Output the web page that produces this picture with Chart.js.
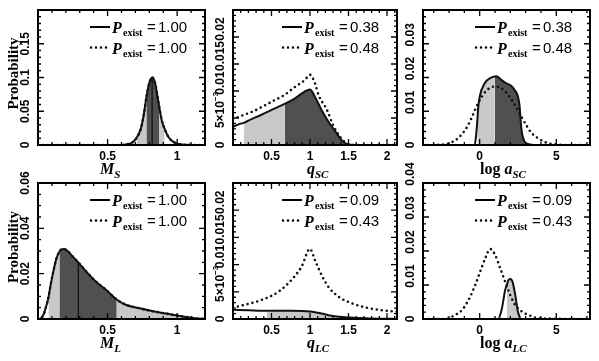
<!DOCTYPE html>
<html>
<head>
<meta charset="utf-8">
<script src="https://cdn.jsdelivr.net/npm/chart.js@4.4.0/dist/chart.umd.min.js"></script>
<style>
  html, body { margin: 0; padding: 0; background: #fff; }
  #wrap { position: relative; width: 599px; height: 361px; }
  #wrap canvas { position: absolute; left: 0; top: 0; }
</style>
</head>
<body>
<div id="wrap">
  <canvas id="c1" width="599" height="361"></canvas>
  <canvas id="c2" width="599" height="361"></canvas>
  <canvas id="c3" width="599" height="361"></canvas>
  <canvas id="c4" width="599" height="361"></canvas>
  <canvas id="c5" width="599" height="361"></canvas>
  <canvas id="c6" width="599" height="361"></canvas>
</div>
<script>
// ---------- data ----------
// M_S (top left)
const msX = [0, 0.6, 0.64, 0.68, 0.71, 0.74, 0.76, 0.78, 0.80, 0.82, 0.84, 0.87, 0.89, 0.91, 0.94, 0.97, 1.0, 1.05, 1.2];
const msSolid = [0, 0, 0.001, 0.004, 0.011, 0.025, 0.045, 0.072, 0.092, 0.100, 0.093, 0.058, 0.036, 0.024, 0.011, 0.005, 0.002, 0.0005, 0];
const msDotted = msSolid;
const msLight = [0.71, 0.91];
const msDark = [0.78, 0.87];
const msMedian = 0.82;

// q_SC (top middle)
const qscX = [0, 0.11, 0.14, 0.24, 0.37, 0.5, 0.67, 0.80, 0.93, 1.0, 1.065, 1.15, 1.24, 1.33, 1.41, 1.48, 1.59, 2.2];
const qscSolid = [0.0034, 0.0040, 0.0041, 0.0048, 0.0056, 0.0065, 0.0076, 0.0086, 0.0099, 0.0103, 0.0089, 0.0065, 0.0043, 0.0025, 0.0009, 0.0002, 0, 0];
const qscDotX = [0, 0.11, 0.24, 0.37, 0.5, 0.67, 0.80, 0.93, 1.0, 1.065, 1.11, 1.22, 1.30, 1.39, 1.48, 1.59, 2.2];
const qscDotted = [0.0048, 0.0054, 0.0061, 0.0070, 0.0080, 0.0093, 0.0107, 0.0120, 0.0130, 0.0114, 0.0093, 0.0065, 0.0037, 0.0015, 0.0003, 0, 0];
const qscLight = [0.14, 0.67];
const qscDark = [0.67, 1.59];

// log a_SC (top right)
const ascX = [-3.7, -0.33, -0.22, -0.15, -0.11, 0, 0.33, 0.76, 0.98, 1.09, 1.41, 1.74, 2.07, 2.28, 2.50, 2.61, 2.67, 2.76, 2.93, 3.15, 3.59, 7.2];
const ascSolid = [0, 0, 0.0035, 0.0075, 0.0104, 0.0143, 0.0183, 0.0200, 0.0203, 0.0204, 0.0193, 0.0183, 0.0175, 0.0163, 0.0143, 0.0113, 0.0074, 0.0035, 0.0010, 0.0003, 0, 0];
const ascDotX = [-3.7, -3.26, -2.28, -1.74, -1.30, -0.87, -0.54, -0.22, 0.11, 0.44, 0.76, 1.09, 1.41, 1.74, 2.07, 2.39, 2.72, 3.04, 3.37, 3.82, 4.35, 4.89, 5.98, 7.2];
const ascDotted = [0, 0, 0.0002, 0.001, 0.0025, 0.005, 0.0079, 0.0113, 0.0141, 0.0161, 0.0171, 0.0173, 0.0168, 0.0155, 0.0135, 0.0112, 0.0084, 0.0059, 0.0036, 0.002, 0.0007, 0.0002, 0, 0];
const ascLight = [-0.15, 0.98];
const ascDark = [0.98, 3.15];

// M_L (bottom left)
const mlX = [0, 0.01, 0.04, 0.06, 0.075, 0.09, 0.11, 0.13, 0.155, 0.18, 0.205, 0.24, 0.29, 0.35, 0.42, 0.49, 0.565, 0.63, 0.73, 0.82, 0.92, 1.0, 1.085, 1.15, 1.2];
const mlSolid = [0, 0, 0.002, 0.0058, 0.0095, 0.0148, 0.0209, 0.0262, 0.0299, 0.0309, 0.0304, 0.0282, 0.0249, 0.0207, 0.0163, 0.0128, 0.0086, 0.0063, 0.0047, 0.0035, 0.0024, 0.0015, 0.0007, 0.0002, 0];
const mlDotted = mlSolid;
const mlLight = [0.075, 1.085];
const mlDark = [0.155, 0.565];
const mlMedian = 0.29;

// q_LC (bottom middle)
const qlcX = [0, 0.2, 0.44, 0.76, 1.0, 1.15, 1.24, 1.46, 1.76, 2.2];
const qlcSolid = [0.0017, 0.0016, 0.0015, 0.0015, 0.0014, 0.0010, 0.0007, 0.0003, 0.0001, 0];
const qlcDotX = [0, 0.15, 0.37, 0.59, 0.76, 0.89, 1.0, 1.065, 1.15, 1.24, 1.37, 1.54, 1.76, 2.2];
const qlcDotted = [0.0021, 0.0026, 0.0035, 0.0050, 0.0072, 0.0096, 0.0129, 0.0108, 0.0081, 0.0059, 0.0041, 0.0029, 0.0020, 0.0012];
const qlcLight = [0.44, 1.46];

// log a_LC (bottom right)
const alcX = [-3.7, 1.2, 1.45, 1.66, 1.77, 1.88, 1.99, 2.14, 2.32, 2.49, 2.58, 2.64, 2.75, 7.2];
const alcSolid = [0, 0, 0.0031, 0.0085, 0.0100, 0.0115, 0.0118, 0.0110, 0.0071, 0.0022, 0.0010, 0.0002, 0, 0];
const alcDotX = [-3.7, -3.34, -2.25, -1.60, -1.16, -0.73, -0.29, 0.03, 0.36, 0.68, 1.01, 1.34, 1.66, 1.99, 2.32, 2.75, 3.18, 3.84, 4.71, 5.79, 7.2];
const alcDotted = [0, 0, 0, 0.0012, 0.0026, 0.0056, 0.0100, 0.0139, 0.0178, 0.0206, 0.0188, 0.0149, 0.0110, 0.0071, 0.0041, 0.0022, 0.0012, 0.0002, 0.0001, 0, 0];
const alcLight = [1.77, 2.58];

// legend values (solid, dotted)
const pExistSC = ['0.38', '0.48'];
const pExistLC = ['0.09', '0.43'];
const pExistMass = ['1.00', '1.00'];

// tick labels
const massXTicks = [0.5, 1];
const qXTicks = [0.5, 1, 1.5, 2];
const aXTicks = [0, 5];
const msYTicks = [0, 0.05, 0.1, 0.15];
const mlYTicks = [0, 0.02, 0.04, 0.06];
const qYTicks = [0, 0.005, 0.01, 0.015, 0.02];
const qYLabels = ['0', '5×10^−3', '0.01', '0.015', '0.02'];
const ascYTicks = [0, 0.01, 0.02, 0.03];
const alcYTicks = [0, 0.01, 0.02, 0.03, 0.04];

const LIGHT = '#c8c8c8';
const DARK = '#505050';

function pts(xs, ys) { return xs.map((x, i) => ({ x: x, y: ys[i] })); }
function band(xs, ys, r) { return pts(xs, ys).filter(p => p.x >= r[0] - 1e-9 && p.x <= r[1] + 1e-9); }

function drawLabel(ctx, text, x, y, fontPx) {
  // supports one superscript chunk written as base^sup
  const parts = text.split('^');
  ctx.font = 'bold ' + fontPx + 'px "Liberation Sans"';
  const wb = ctx.measureText(parts[0]).width;
  let ws = 0;
  if (parts[1]) { ctx.font = 'bold ' + Math.round(fontPx * 0.7) + 'px "Liberation Sans"'; ws = ctx.measureText(parts[1]).width; }
  const x0 = x - (wb + ws) / 2;
  ctx.textAlign = 'left';
  ctx.textBaseline = 'middle';
  ctx.font = 'bold ' + fontPx + 'px "Liberation Sans"';
  ctx.fillText(parts[0], x0, y);
  if (parts[1]) {
    ctx.font = 'bold ' + Math.round(fontPx * 0.7) + 'px "Liberation Sans"';
    ctx.fillText(parts[1], x0 + wb, y - fontPx * 0.45);
  }
}

function stepTicks(min, max, step) {
  const out = [];
  for (let k = Math.ceil(min / step - 1e-6); k * step <= max + 1e-9; k++) out.push(k * step);
  return out;
}

const axesPlugin = {
  id: 'smAxes',
  afterDraw(chart) {
    const p = chart.config.options.plugins.smAxes;
    const ctx = chart.ctx, a = chart.chartArea, sx = chart.scales.x, sy = chart.scales.y;
    ctx.save();
    ctx.strokeStyle = '#000';
    ctx.fillStyle = '#000';
    ctx.lineWidth = 1.3;
    ctx.beginPath();
    stepTicks(sx.min, sx.max, p.xMinor).forEach(v => {
      const X = sx.getPixelForValue(v);
      const major = Math.abs(v / p.xMajor - Math.round(v / p.xMajor)) < 1e-6;
      const L = major ? 6 : 3;
      ctx.moveTo(X, a.bottom); ctx.lineTo(X, a.bottom - L);
      ctx.moveTo(X, a.top); ctx.lineTo(X, a.top + L);
    });
    stepTicks(sy.min, sy.max, p.yMinor).forEach(v => {
      const Y = sy.getPixelForValue(v);
      const major = Math.abs(v / p.yMajor - Math.round(v / p.yMajor)) < 1e-6;
      const L = major ? 6 : 3;
      ctx.moveTo(a.left, Y); ctx.lineTo(a.left + L, Y);
      ctx.moveTo(a.right, Y); ctx.lineTo(a.right - L, Y);
    });
    ctx.stroke();
    ctx.lineWidth = 2;
    ctx.strokeRect(a.left, a.top, a.right - a.left, a.bottom - a.top);

    // x tick labels
    p.xTicks.forEach(v => drawLabel(ctx, String(v), sx.getPixelForValue(v), a.bottom + 11.5, 12));
    // y tick labels (rotated); non-zero labels sit a little above their tick in some panels
    p.yTicks.forEach((v, i) => {
      const Y = sy.getPixelForValue(v) - (v !== 0 ? (p.yLabelShift || 0) : 0);
      ctx.save();
      ctx.translate(a.left - 12, Y);
      ctx.rotate(-Math.PI / 2);
      drawLabel(ctx, p.yLabels ? p.yLabels[i] : String(v), 0, 0, 12);
      ctx.restore();
    });

    // x title
    const tx = p.titleX, ty = a.bottom + 29;
    ctx.textAlign = 'left';
    ctx.textBaseline = 'alphabetic';
    let cx = tx;
    if (p.titlePre) {
      ctx.font = 'bold 16px "Liberation Serif"';
      ctx.fillText(p.titlePre, cx, ty);
      cx += ctx.measureText(p.titlePre).width + 4;
    }
    ctx.font = 'bold italic 16px "Liberation Serif"';
    ctx.fillText(p.titleMain, cx, ty);
    cx += ctx.measureText(p.titleMain).width;
    ctx.font = 'bold italic 11px "Liberation Serif"';
    ctx.fillText(p.titleSub, cx, ty + 4);

    // y title
    if (p.yTitle) {
      ctx.save();
      ctx.translate(14, (a.top + a.bottom) / 2 - 4);
      ctx.rotate(-Math.PI / 2);
      ctx.font = 'bold 15px "Liberation Serif"';
      ctx.textAlign = 'center';
      ctx.textBaseline = 'middle';
      ctx.fillText('Probability', 0, 0);
      ctx.restore();
    }

    // legend
    const lx = p.legendX;
    [0, 1].forEach(k => {
      const y = a.top + 17 + k * 20.5;
      ctx.beginPath();
      ctx.lineWidth = k ? 2.5 : 2;
      ctx.lineCap = k ? 'round' : 'butt';
      ctx.setLineDash(k ? [0, 5] : []);
      ctx.moveTo(lx + (k ? 1 : 0), y);
      ctx.lineTo(lx + 20, y);
      ctx.stroke();
      ctx.setLineDash([]);
      ctx.textAlign = 'left';
      ctx.textBaseline = 'alphabetic';
      ctx.font = 'bold italic 16px "Liberation Serif"';
      ctx.fillText('P', lx + 22, y + 6);
      ctx.font = 'bold 10px "Liberation Serif"';
      ctx.fillText('exist', lx + 33, y + 9);
      ctx.font = '15px "Liberation Sans"';
      ctx.fillText('=', lx + 57, y + 5);
      ctx.fillText(p.legend[k], lx + 68, y + 5);
    });
    ctx.restore();
  }
};

function makePanel(id, area, xr, yr, solid, dotted, shades, median, axes) {
  const ds = [];
  ds.push({ data: solid, borderColor: '#111', borderWidth: 2, pointRadius: 0, cubicInterpolationMode: 'monotone', fill: false, order: 0 });
  ds.push({ data: dotted, borderColor: '#111', borderWidth: 2.6, borderDash: [0, 5], borderCapStyle: 'round', pointRadius: 0, cubicInterpolationMode: 'monotone', fill: false, order: 1 });
  if (median) ds.push({ data: median, borderColor: '#111', borderWidth: 1.3, pointRadius: 0, fill: false, order: 2 });
  shades.forEach((s, i) => ds.push({ data: s.data, borderWidth: 0, borderColor: 'rgba(0,0,0,0)', backgroundColor: s.color, pointRadius: 0, cubicInterpolationMode: 'monotone', fill: 'origin', order: 3 + i }));
  return new Chart(document.getElementById(id), {
    type: 'line',
    data: { datasets: ds },
    options: {
      responsive: false,
      animation: false,
      events: [],
      layout: { padding: { left: area[0], top: area[1], right: 599 - area[2], bottom: 361 - area[3] } },
      plugins: { legend: { display: false }, tooltip: { enabled: false }, smAxes: axes },
      scales: {
        x: { type: 'linear', min: xr[0], max: xr[1], display: false },
        y: { type: 'linear', min: yr[0], max: yr[1], display: false }
      }
    },
    plugins: [axesPlugin]
  });
}

function medianLine(xs, ys, m) { const i = xs.indexOf(m); return [{ x: m, y: 0 }, { x: m, y: ys[i] }]; }

const row1 = [10, 145], row2 = [183, 319];
const col1 = [38, 205], col2 = [233, 397], col3 = [423, 590];
const massRange = [0, 1.2], qRange = [0, 2.13], aRange = [-3.7, 7.2];

makePanel('c1', [col1[0], row1[0], col1[1], row1[1]], massRange, [0, 0.2],
  pts(msX, msSolid), pts(msX, msDotted),
  [{ data: band(msX, msSolid, msDark), color: DARK }, { data: band(msX, msSolid, msLight), color: LIGHT }],
  medianLine(msX, msSolid, msMedian),
  { xMinor: 0.1, xMajor: 0.5, yMinor: 0.01, yMajor: 0.05, xTicks: massXTicks, yTicks: msYTicks,
    titleX: 100, titleMain: 'M', titleSub: 'S', yTitle: true, legendX: 90, legend: pExistMass });

makePanel('c2', [col2[0], row1[0], col2[1], row1[1]], qRange, [0, 0.025],
  pts(qscX, qscSolid), pts(qscDotX, qscDotted),
  [{ data: band(qscX, qscSolid, qscDark), color: DARK }, { data: band(qscX, qscSolid, qscLight), color: LIGHT }],
  null,
  { xMinor: 0.1, xMajor: 0.5, yMinor: 0.001, yMajor: 0.005, xTicks: qXTicks, yTicks: qYTicks, yLabels: qYLabels, yLabelShift: 8,
    titleX: 307, titleMain: 'q', titleSub: 'SC', legendX: 282, legend: pExistSC });

makePanel('c3', [col3[0], row1[0], col3[1], row1[1]], aRange, [0, 0.04],
  pts(ascX, ascSolid), pts(ascDotX, ascDotted),
  [{ data: band(ascX, ascSolid, ascDark), color: DARK }, { data: band(ascX, ascSolid, ascLight), color: LIGHT }],
  null,
  { xMinor: 1, xMajor: 5, yMinor: 0.002, yMajor: 0.01, xTicks: aXTicks, yTicks: ascYTicks, yLabelShift: 9,
    titleX: 480, titlePre: 'log', titleMain: 'a', titleSub: 'SC', legendX: 475, legend: pExistSC });

makePanel('c4', [col1[0], row2[0], col1[1], row2[1]], massRange, [0, 0.06],
  pts(mlX, mlSolid), pts(mlX, mlDotted),
  [{ data: band(mlX, mlSolid, mlDark), color: DARK }, { data: band(mlX, mlSolid, mlLight), color: LIGHT }],
  medianLine(mlX, mlSolid, mlMedian),
  { xMinor: 0.1, xMajor: 0.5, yMinor: 0.005, yMajor: 0.02, xTicks: massXTicks, yTicks: mlYTicks,
    titleX: 100, titleMain: 'M', titleSub: 'L', yTitle: true, legendX: 90, legend: pExistMass });

makePanel('c5', [col2[0], row2[0], col2[1], row2[1]], qRange, [0, 0.025],
  pts(qlcX, qlcSolid), pts(qlcDotX, qlcDotted),
  [{ data: band(qlcX, qlcSolid, qlcLight), color: LIGHT }],
  null,
  { xMinor: 0.1, xMajor: 0.5, yMinor: 0.001, yMajor: 0.005, xTicks: qXTicks, yTicks: qYTicks, yLabels: qYLabels, yLabelShift: 8,
    titleX: 307, titleMain: 'q', titleSub: 'LC', legendX: 282, legend: pExistLC });

makePanel('c6', [col3[0], row2[0], col3[1], row2[1]], aRange, [0, 0.04],
  pts(alcX, alcSolid), pts(alcDotX, alcDotted),
  [{ data: band(alcX, alcSolid, alcLight), color: LIGHT }],
  null,
  { xMinor: 1, xMajor: 5, yMinor: 0.002, yMajor: 0.01, xTicks: aXTicks, yTicks: alcYTicks, yLabelShift: 9,
    titleX: 480, titlePre: 'log', titleMain: 'a', titleSub: 'LC', legendX: 475, legend: pExistLC });
</script>
</body>
</html>
